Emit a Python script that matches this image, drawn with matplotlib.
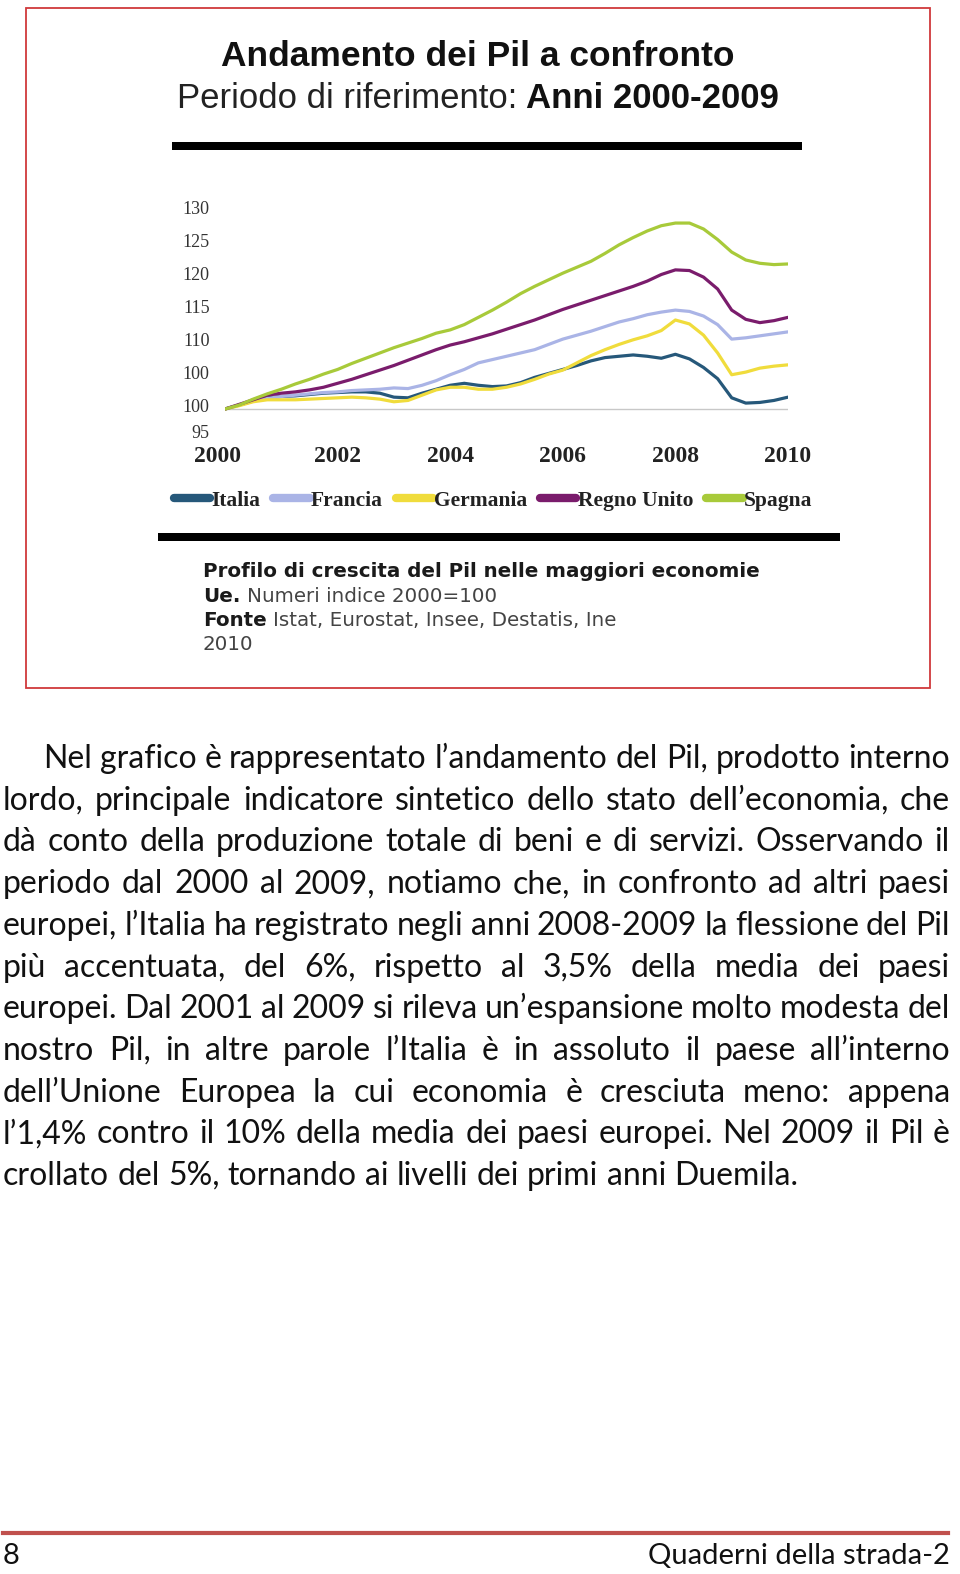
import matplotlib
matplotlib.use('Agg')
import matplotlib.pyplot as plt
from matplotlib.patches import Rectangle
from matplotlib.lines import Line2D
from matplotlib.transforms import ScaledTranslation
import numpy as np

W, H = 960, 1574

# ---- data (index 2000=100, quarterly) ----
years = np.arange(2000, 2010.001, 0.25)

italia = [100.0, 100.6, 101.2, 101.7, 101.9, 102.0, 102.2, 102.4, 102.5, 102.6, 102.6, 102.4,
          101.8, 101.7, 102.4, 103.0, 103.6, 103.9, 103.6, 103.4, 103.5, 104.0, 104.8, 105.4,
          106.0, 106.6, 107.3, 107.8, 108.0, 108.2, 108.0, 107.7, 108.3, 107.6, 106.3, 104.6,
          101.7, 100.9, 101.0, 101.3, 101.8]
francia = [100.0, 100.6, 101.2, 101.6, 101.9, 102.1, 102.3, 102.5, 102.6, 102.8, 102.9, 103.0,
           103.2, 103.1, 103.6, 104.3, 105.2, 106.0, 107.0, 107.5, 108.0, 108.5, 109.0, 109.8,
           110.6, 111.2, 111.8, 112.5, 113.2, 113.7, 114.3, 114.7, 115.0, 114.8, 114.1, 112.8,
           110.6, 110.8, 111.1, 111.4, 111.7]
germania = [100.0, 100.5, 101.1, 101.4, 101.4, 101.4, 101.5, 101.6, 101.7, 101.8, 101.7, 101.5,
            101.1, 101.3, 102.1, 102.9, 103.3, 103.3, 103.0, 103.0, 103.3, 103.8, 104.5, 105.3,
            105.9, 107.0, 108.1, 109.0, 109.8, 110.5, 111.1, 111.9, 113.5, 112.9, 111.2, 108.5,
            105.2, 105.6, 106.2, 106.5, 106.7]
regno_unito = [100.0, 100.7, 101.4, 102.1, 102.4, 102.6, 102.9, 103.3, 103.9, 104.5, 105.2, 105.9,
               106.6, 107.4, 108.2, 109.0, 109.7, 110.2, 110.8, 111.4, 112.1, 112.8, 113.5, 114.3,
               115.1, 115.8, 116.5, 117.2, 117.9, 118.6, 119.4, 120.4, 121.1, 121.0, 120.0, 118.2,
               115.0, 113.6, 113.1, 113.4, 113.9]
spagna = [100.0, 100.6, 101.5, 102.3, 103.0, 103.8, 104.5, 105.3, 106.0, 106.9, 107.7, 108.5,
          109.3, 110.0, 110.7, 111.5, 112.0, 112.8, 113.9, 115.0, 116.2, 117.5, 118.6, 119.6,
          120.6, 121.5, 122.4, 123.6, 124.9, 126.0, 127.0, 127.8, 128.2, 128.2, 127.3, 125.7,
          123.8, 122.6, 122.1, 121.9, 122.0]

series_names = ['Italia', 'Francia', 'Germania', 'Regno Unito', 'Spagna']
series_values = [italia, francia, germania, regno_unito, spagna]
series_colors = ['#26587a', '#aab4e6', '#f0dc3c', '#7a1c6c', '#a8ca3a']

ytick_values = [95, 100, 105, 110, 115, 120, 125, 130]
ytick_labels = ['95', '100', '100', '110', '115', '120', '125', '130']
xtick_values = [2000, 2002, 2004, 2006, 2008, 2010]

paragraph = [
    'Nel grafico è rappresentato l’andamento del Pil, prodotto interno',
    'lordo, principale indicatore sintetico dello stato dell’economia, che',
    'dà conto della produzione totale di beni e di servizi. Osservando il',
    'periodo dal 2000 al 2009, notiamo che, in confronto ad altri paesi',
    'europei, l’Italia ha registrato negli anni 2008-2009 la flessione del Pil',
    'più accentuata, del 6%, rispetto al 3,5% della media dei paesi',
    'europei. Dal 2001 al 2009 si rileva un’espansione molto modesta del',
    'nostro Pil, in altre parole l’Italia è in assoluto il paese all’interno',
    'dell’Unione Europea la cui economia è cresciuta meno: appena',
    'l’1,4% contro il 10% della media dei paesi europei. Nel 2009 il Pil è',
    'crollato del 5%, tornando ai livelli dei primi anni Duemila.',
]

fig = plt.figure(figsize=(W / 100, H / 100), dpi=100)
renderer = fig.canvas.get_renderer()


def fx(x):
    return x / W


def fy(y):
    return 1 - y / H


def text_width(s, **kw):
    t = fig.text(0, 0, s, **kw)
    w = t.get_window_extent(renderer).width
    t.remove()
    return w


# red frame round the chart
fig.add_artist(Rectangle((fx(26), fy(688)), fx(930) - fx(26), fy(8) - fy(688),
                         transform=fig.transFigure, fill=False, edgecolor='#d0393b', lw=1.3))

# titles
fig.text(fx(478), fy(57), 'Andamento dei Pil a confronto', ha='center', va='center',
         family='Liberation Sans', weight='bold', size=25.5, color='#111111')
sub_a = dict(family='Liberation Sans', size=25, color='#222222')
sub_b = dict(family='Liberation Sans', size=25, weight='bold', color='#111111')
wa = text_width('Periodo di riferimento:', **sub_a)
wsp = text_width('a a', **sub_a) - text_width('aa', **sub_a)
wb = text_width('Anni 2000-2009', **sub_b)
x0 = 478 - (wa + wsp + wb) / 2
fig.text(fx(x0), fy(99), 'Periodo di riferimento:', ha='left', va='center', **sub_a)
fig.text(fx(x0 + wa + wsp), fy(99), 'Anni 2000-2009', ha='left', va='center', **sub_b)

# black bars
fig.add_artist(Rectangle((fx(172), fy(150)), fx(802) - fx(172), 8 / H,
                         transform=fig.transFigure, color='black', lw=0))
fig.add_artist(Rectangle((fx(158), fy(541)), fx(840) - fx(158), 8 / H,
                         transform=fig.transFigure, color='black', lw=0))

# chart
ax = fig.add_axes([fx(225), fy(442), (788 - 225) / W, (442 - 198) / H])
ax.axhline(100, color='#c8c8c8', lw=1, zorder=0)
for name, vals, col in zip(series_names, series_values, series_colors):
    ax.plot(years, vals, color=col, lw=2.3, label=name, solid_capstyle='round')
ax.set_xlim(2000, 2010)
ax.set_ylim(95, 132)
ax.set_xticks(xtick_values)
ax.set_xticklabels([str(v) for v in xtick_values], family='Liberation Serif',
                   weight='bold', size=17, color='#222222')
ax.set_yticks(ytick_values)
ax.set_yticklabels(ytick_labels, family='Liberation Serif', size=13, color='#333333')
ax.tick_params(axis='both', length=0)
ax.tick_params(axis='y', pad=11)
ax.tick_params(axis='x', pad=3)
for s in ax.spines.values():
    s.set_visible(False)
ax.patch.set_alpha(0)

# tick labels in the source sit a little higher than their grid values
for i, lab in enumerate(ax.get_yticklabels()):
    up = 10 if i == 0 else 4
    lab.set_transform(lab.get_transform() + ScaledTranslation(0, up / 100, fig.dpi_scale_trans))
first_x = ax.get_xticklabels()[0]
first_x.set_transform(first_x.get_transform() + ScaledTranslation(-8 / 100, 0, fig.dpi_scale_trans))

leg = fig.legend(loc='center', bbox_to_anchor=(fx(493), fy(501)), ncol=5, frameon=False,
                 handlelength=1.7, handletextpad=0.05, columnspacing=0.6,
                 prop=dict(family='Liberation Serif', weight='bold', size=15.5))
for ln in leg.get_lines():
    ln.set_linewidth(6)
for t in leg.get_texts():
    t.set_color('#222222')

# notes under the chart
note_b = dict(family='DejaVu Sans', weight='bold', size=14.3, color='#1a1a1a')
note_n = dict(family='DejaVu Sans', size=14.3, color='#444444')
fig.text(fx(203), fy(571), 'Profilo di crescita del Pil nelle maggiori economie',
         ha='left', va='center', **note_b)
for y, bold, normal in [(596, 'Ue.', 'Numeri indice 2000=100'),
                        (620, 'Fonte', 'Istat, Eurostat, Insee, Destatis, Ine')]:
    wbold = text_width(bold, **note_b)
    gap = text_width('a a', **note_n) - text_width('aa', **note_n)
    fig.text(fx(203), fy(y), bold, ha='left', va='center', **note_b)
    fig.text(fx(203 + wbold + gap), fy(y), normal, ha='left', va='center', **note_n)
fig.text(fx(203), fy(645), '2010', ha='left', va='center', **note_n)

# paragraph, justified
body = dict(family='Lato', size=23, color='#111111')
left, right = 3, 950
for i, line in enumerate(paragraph):
    words = line.split(' ')
    ws = [text_width(w, **body) for w in words]
    xstart = 43 if i == 0 else left
    if i == len(paragraph) - 1:
        space = text_width('a a', **body) - text_width('aa', **body)
    else:
        space = (right - xstart - sum(ws)) / (len(words) - 1)
    x = xstart
    yb = 768 + i * 41.7
    for w, wd in zip(words, ws):
        fig.text(fx(x), fy(yb), w, ha='left', va='baseline', **body)
        x += wd + space

# footer
foot = dict(family='Lato', size=21, color='#111111')
fig.add_artist(Line2D([fx(3), fx(948)], [fy(1533), fy(1533)], transform=fig.transFigure,
                      color='#c0504d', lw=3))
fig.text(fx(3), fy(1564), '8', ha='left', va='baseline', **foot)
fig.text(fx(950), fy(1564), 'Quaderni della strada-2', ha='right', va='baseline', **foot)

fig.savefig('out.png', dpi=100)
